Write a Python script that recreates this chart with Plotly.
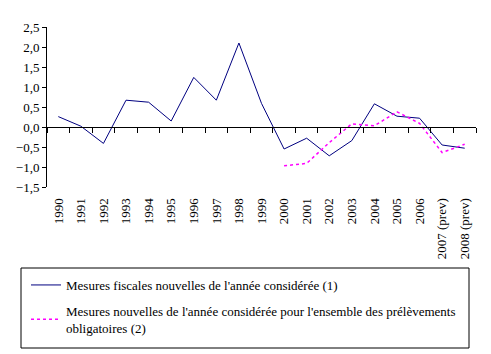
import plotly.graph_objects as go

years = ["1990", "1991", "1992", "1993", "1994", "1995", "1996", "1997", "1998", "1999",
         "2000", "2001", "2002", "2003", "2004", "2005", "2006", "2007 (prev)", "2008 (prev)"]
mesures_fiscales = [0.26, 0.02, -0.41, 0.67, 0.62, 0.15, 1.24, 0.67, 2.10, 0.59,
                    -0.55, -0.28, -0.72, -0.34, 0.58, 0.27, 0.22, -0.45, -0.53]
years2 = ["2000", "2001", "2002", "2003", "2004", "2005", "2006", "2007 (prev)", "2008 (prev)"]
mesures_po = [-0.97, -0.91, -0.39, 0.08, 0.03, 0.38, 0.09, -0.64, -0.43]

name1 = "Mesures fiscales nouvelles de l'année considérée (1)"
name2 = "Mesures nouvelles de l'année considérée pour l'ensemble des prélèvements<br>obligatoires (2)"

FONT = "Liberation Serif, Times New Roman, serif"
FS = 13
W, H = 491, 354
L, R, T, B = 47, 15, 27, 167
PW, PH = W - L - R, H - T - B
ymin, ymax = -1.5, 2.5


def px_x(px):
    return (px - L) / PW


def px_y(py):
    return (H - B - py) / PH


fig = go.Figure()
fig.add_trace(go.Scatter(x=years, y=mesures_fiscales, mode="lines", name=name1,
                         line=dict(color="#000080", width=1), legendgroup="a",
                         xaxis="x", yaxis="y"))
fig.add_trace(go.Scatter(x=years2, y=mesures_po, mode="lines", name=name2,
                         line=dict(color="#FF00FF", width=1.5, dash="dot"), legendgroup="b",
                         xaxis="x2", yaxis="y"))

zero_pos = (0 - ymin) / (ymax - ymin)

fig.update_layout(
    width=W, height=H,
    margin=dict(l=L, r=R, t=T, b=B, pad=0, autoexpand=False),
    paper_bgcolor="white", plot_bgcolor="white",
    font=dict(family=FONT, size=FS, color="black"),
    separators=", ",
    xaxis=dict(type="category", categoryorder="array", categoryarray=years,
               range=[-0.5, len(years) - 0.5], showgrid=False, zeroline=False,
               showline=False, ticks="outside", ticklen=5, tickcolor="rgba(0,0,0,0)",
               tickangle=-90, tickfont=dict(family=FONT, size=FS), automargin=False),
    xaxis2=dict(type="category", categoryorder="array", categoryarray=years,
                range=[-0.5, len(years) - 0.5], overlaying="x", anchor="free",
                position=zero_pos, showgrid=False, zeroline=False, showline=True,
                linecolor="black", linewidth=1, ticks="outside", tickson="boundaries",
                ticklen=5, tickcolor="black", tickwidth=1, showticklabels=False),
    yaxis=dict(range=[ymin, ymax], dtick=0.5, tick0=0, tickformat=".1f",
               showgrid=False, zeroline=False, showline=True, linecolor="black",
               linewidth=1, ticks="outside", ticklen=4, tickcolor="black",
               tickfont=dict(family=FONT, size=FS), automargin=False),
    showlegend=True,
    legend=dict(x=px_x(26), y=px_y(270), xanchor="left", yanchor="top",
                bgcolor="rgba(0,0,0,0)", borderwidth=0,
                font=dict(family=FONT, size=FS), tracegroupgap=6,
                itemwidth=30),
    shapes=[dict(type="rect", xref="paper", yref="paper",
                 x0=px_x(21), x1=px_x(469), y0=px_y(348), y1=px_y(268),
                 line=dict(color="black", width=1), fillcolor="rgba(0,0,0,0)",
                 layer="above")],
)

fig.write_html("out.html")
